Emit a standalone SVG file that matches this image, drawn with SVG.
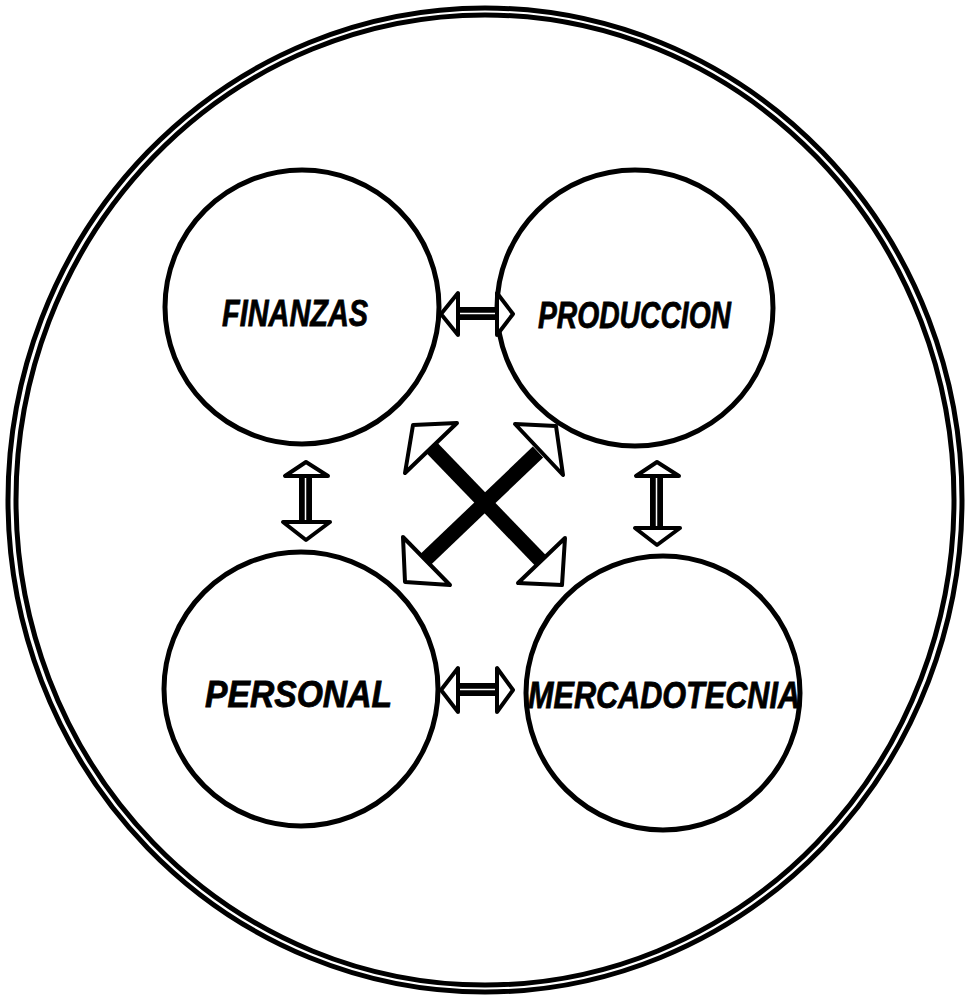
<svg xmlns="http://www.w3.org/2000/svg" width="968" height="999" viewBox="0 0 968 999">
<style>
.ring{fill:none;stroke:#000;stroke-width:5}
.node{fill:#fff;stroke:#000;stroke-width:5}
.lbl{font-family:"Liberation Sans",Arial,sans-serif;font-weight:bold;font-style:italic;font-size:37px;fill:#000;stroke:#000;stroke-width:0.8}
.head{fill:#fff;stroke:#000;stroke-width:4;stroke-linejoin:round}
.bar{fill:#000}
.gap{stroke:#fff;stroke-width:1.5}
.xbar{stroke:#000;stroke-width:15;stroke-linecap:butt}
</style>
<rect width="968" height="999" fill="#fff"/>
<g id="outer">
<ellipse class="ring" cx="485" cy="500" rx="477" ry="492"/>
<ellipse class="ring" cx="485" cy="500" rx="469" ry="485"/>
</g>
<g id="finanzas">
<circle class="node" cx="302" cy="307" r="137"/>
<text class="lbl" x="222" y="326" textLength="146" lengthAdjust="spacingAndGlyphs">FINANZAS</text>
</g>
<g id="produccion">
<circle class="node" cx="635" cy="308" r="138"/>
<text class="lbl" x="538" y="328" textLength="193" lengthAdjust="spacingAndGlyphs">PRODUCCION</text>
</g>
<g id="personal">
<circle class="node" cx="301" cy="689" r="137"/>
<text class="lbl" x="205" y="707" textLength="187" lengthAdjust="spacingAndGlyphs">PERSONAL</text>
</g>
<g id="mercadotecnia">
<circle class="node" cx="663" cy="693" r="137"/>
<text class="lbl" x="528" y="708" textLength="272" lengthAdjust="spacingAndGlyphs">MERCADOTECNIA</text>
</g>
<g id="connectors">
<rect class="bar" x="456" y="307" width="43" height="13"/>
<line class="gap" x1="456" y1="313.5" x2="499" y2="313.5"/>
<polygon class="head" points="441,314 458,293 458,335"/>
<polygon class="head" points="513,314 497,293 497,335"/>
<rect class="bar" x="456" y="683" width="43" height="13"/>
<line class="gap" x1="456" y1="689.5" x2="499" y2="689.5"/>
<polygon class="head" points="441,690 458,668 458,712"/>
<polygon class="head" points="513,690 497,668 497,712"/>
<rect class="bar" x="299" y="474" width="13" height="50"/>
<line class="gap" x1="305.5" y1="474" x2="305.5" y2="524"/>
<polygon class="head" points="306,462 285,476 328,476"/>
<polygon class="head" points="306,540 283,522 330,522"/>
<rect class="bar" x="650" y="474" width="13" height="55"/>
<line class="gap" x1="656.5" y1="474" x2="656.5" y2="529"/>
<polygon class="head" points="657,462 636,476 679,476"/>
<polygon class="head" points="657,545 635,528 680,528"/>
<line class="xbar" x1="432" y1="448" x2="542" y2="562"/>
<line class="xbar" x1="538" y1="452" x2="425" y2="560"/>
<polygon class="head" points="413,425 457,423 405,473"/>
<polygon class="head" points="556,426 515,424 563,475"/>
<polygon class="head" points="405,582 403,537 450,585"/>
<polygon class="head" points="562,585 565,538 518,583"/>
</g>
</svg>
